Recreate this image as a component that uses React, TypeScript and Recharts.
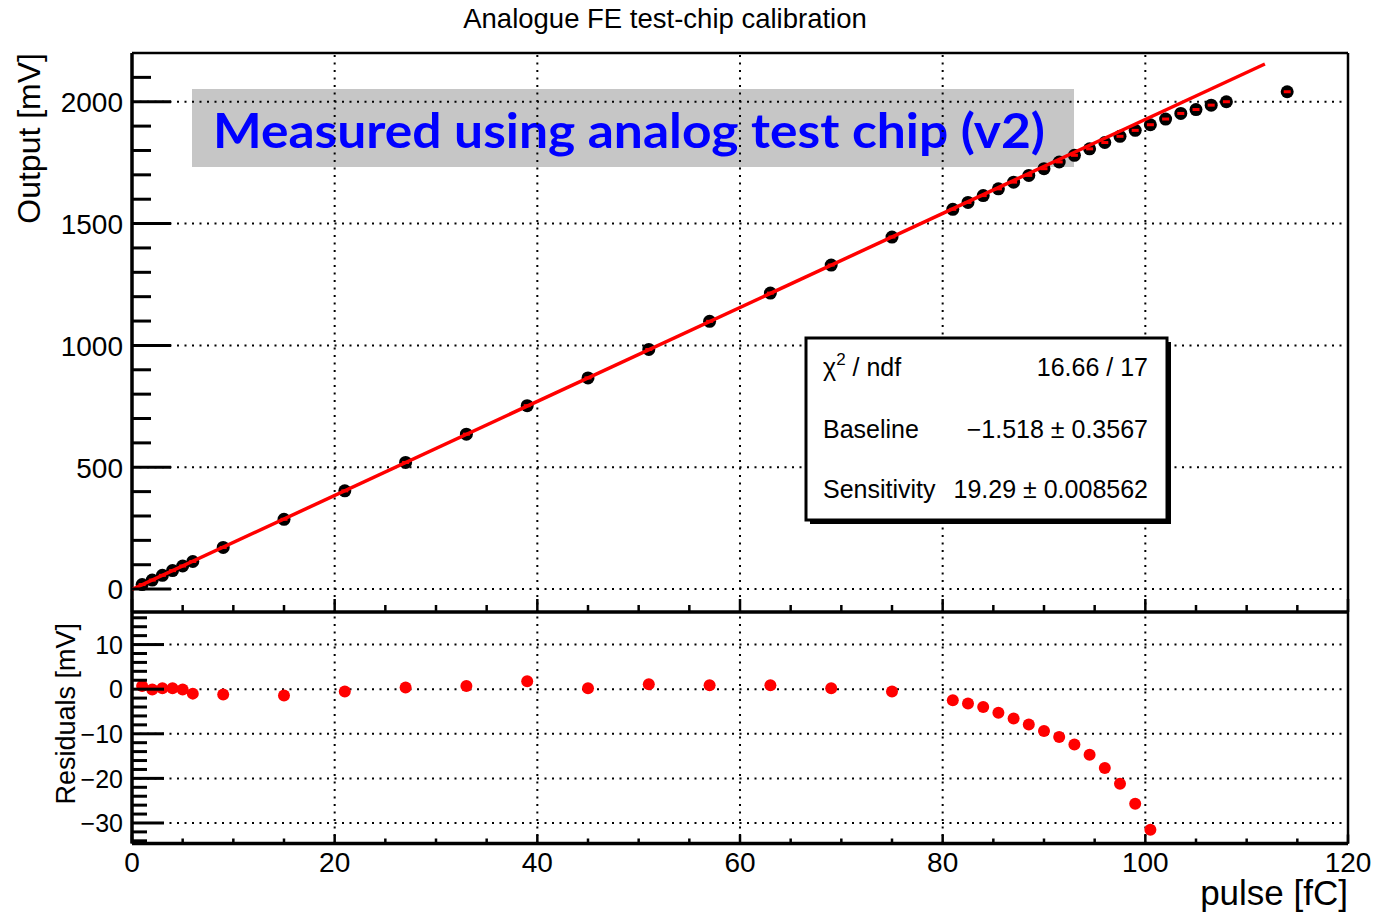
import { ScatterChart, Scatter, XAxis, YAxis, ReferenceLine } from 'recharts';

// pulse [fC] vs output [mV]
const pulse = [
  1, 2, 3, 4, 5, 6, 9, 15, 21, 27, 33, 39, 45, 51, 57, 63, 69, 75,
  81, 82.5, 84, 85.5, 87, 88.5, 90, 91.5, 93, 94.5, 96, 97.5, 99, 100.5,
  102, 103.5, 105, 106.5, 108, 114,
];
const output = [
  18.5, 37.0, 56.5, 75.8, 94.8, 113.2, 170.9, 286.4, 403.1, 519.7, 635.8, 752.6, 866.7, 983.4, 1098.9, 1214.7, 1329.7, 1444.7,
  1558.5, 1586.7, 1614.8, 1642.5, 1670.1, 1697.8, 1725.2, 1752.8, 1780.1, 1806.7, 1832.6, 1858.1, 1882.5, 1905.6,
  1929, 1952, 1968, 1986, 2000, 2041,
];
// residuals only for the fitted range (up to 100.5 fC)
const residuals = [
  0.7, -0.1, 0.2, 0.2, -0.1, -1.0, -1.2, -1.4, -0.5, 0.4, 0.7, 1.8, 0.2, 1.1, 0.9, 0.9, 0.2, -0.5,
  -2.5, -3.2, -4.0, -5.3, -6.6, -7.9, -9.4, -10.7, -12.4, -14.7, -17.7, -21.2, -25.7, -31.5,
];
// fitted line end points
const fitX = [0, 111.8];
const fitY = [-1.5, 2155];

const xGrid = [20, 40, 60, 80, 100, 120];
const topLabels = [0, 500, 1000, 1500, 2000];
const resLabels = [-30, -20, -10, 0, 10];

const xTicks = Array.from({ length: 25 }, (_, i) => i * 5);
const topTicks = Array.from({ length: 22 }, (_, i) => i * 100);
const resTicks = Array.from({ length: 26 }, (_, i) => -34 + i * 2);

const pointData = pulse.map((x, i) => ({ x, y: output[i] }));
const resData = residuals.map((y, i) => ({ x: pulse[i], y }));
const fitData = fitX.map((x, i) => ({ x, y: fitY[i] }));

const FONT = '"Liberation Sans", Arial, Helvetica, sans-serif';
const GRID = { stroke: '#000', strokeDasharray: '2 5.5', strokeWidth: 2 };

const fmt = (v: number) => (v < 0 ? '\u2212' + Math.abs(v) : String(v));

function LeftTick(props: any) {
  const { x, y, payload, major, majorLen, minorLen, fontSize, labels } = props;
  const v = payload.value;
  const isMajor = Math.abs(v % major) < 1e-6;
  return (
    <g>
      <line x1={x} x2={x + (isMajor ? majorLen : minorLen)} y1={y} y2={y} stroke="#000" strokeWidth={3} />
      {isMajor && labels.includes(v) && (
        <text x={x - 9} y={y + fontSize * 0.37} textAnchor="end" fontFamily={FONT} fontSize={fontSize} fill="#000">
          {fmt(v)}
        </text>
      )}
    </g>
  );
}

function BottomTick(props: any) {
  const { x, y, payload, majorLen, minorLen, showLabels } = props;
  const v = payload.value;
  const isMajor = v % 20 === 0;
  return (
    <g>
      <line x1={x} x2={x} y1={y} y2={y - (isMajor ? majorLen : minorLen)} stroke="#000" strokeWidth={2.5} />
      {showLabels && isMajor && (
        <text x={x} y={y + 28.5} textAnchor="middle" fontFamily={FONT} fontSize={28} fill="#000">
          {v}
        </text>
      )}
    </g>
  );
}

const MeasuredPoint = (p: any) => (
  <g>
    <circle cx={p.cx} cy={p.cy} r={6.5} fill="#000" />
    <rect x={p.cx - 3.5} y={p.cy - 1.5} width={7} height={3} fill="#ff0000" />
  </g>
);

const ResidualPoint = (p: any) => <circle cx={p.cx} cy={p.cy} r={6} fill="#ff0000" />;

export default function App() {
  return (
    <div style={{ position: 'absolute', left: 0, top: 0, width: 1375, height: 916, background: '#fff' }}>
      {/* annotation box behind the plot */}
      <svg width={1375} height={916} style={{ position: 'absolute', left: 0, top: 0 }}>
        <rect x={192} y={89} width={882} height={78} fill="#c6c6c6" />
        <text
          x={213}
          y={148}
          fontFamily="Lato, 'Open Sans', sans-serif"
          fontWeight="bold"
          fontSize={48}
          fill="#0000ff"
          textLength={832}
          lengthAdjust="spacingAndGlyphs"
        >
          Measured using analog test chip (v2)
        </text>
      </svg>

      <div style={{ position: 'absolute', left: 0, top: 0 }}>
        <ScatterChart width={1375} height={640} margin={{ top: 53, right: 27, bottom: 27, left: 131 }}>
          <XAxis
            type="number"
            dataKey="x"
            domain={[0, 120]}
            ticks={xTicks}
            interval={0}
            height={1}
            tickSize={0}
            tickMargin={0}
            tickLine={false}
            axisLine={{ stroke: '#000', strokeWidth: 3.5 }}
            tick={<BottomTick majorLen={13} minorLen={7} showLabels={false} />}
            allowDataOverflow
          />
          <YAxis
            type="number"
            dataKey="y"
            domain={[-94, 2200]}
            ticks={topTicks}
            interval={0}
            width={1}
            tickSize={0}
            tickMargin={0}
            tickLine={false}
            axisLine={{ stroke: '#000', strokeWidth: 3.5 }}
            tick={<LeftTick major={500} majorLen={39} minorLen={19} fontSize={28} labels={topLabels} />}
            allowDataOverflow
          />
          {xGrid.map((v) => (
            <ReferenceLine key={'gx' + v} x={v} {...GRID} />
          ))}
          {topLabels.map((v) => (
            <ReferenceLine key={'gy' + v} y={v} {...GRID} />
          ))}
          <ReferenceLine y={2200} stroke="#000" strokeWidth={2.5} />
          <ReferenceLine x={120} stroke="#000" strokeWidth={2.5} />
          <Scatter data={pointData} shape={MeasuredPoint} isAnimationActive={false} />
          <Scatter
            data={fitData}
            line={{ stroke: '#ff0000', strokeWidth: 3.5 }}
            shape={() => <g />}
            isAnimationActive={false}
          />
        </ScatterChart>
      </div>

      <div style={{ position: 'absolute', left: 0, top: 0 }}>
        <ScatterChart width={1375} height={916} margin={{ top: 612, right: 27, bottom: 71.5, left: 131 }}>
          <XAxis
            type="number"
            dataKey="x"
            domain={[0, 120]}
            ticks={xTicks}
            interval={0}
            height={1}
            tickSize={0}
            tickMargin={0}
            tickLine={false}
            axisLine={{ stroke: '#000', strokeWidth: 3.5 }}
            tick={<BottomTick majorLen={9} minorLen={5} showLabels />}
            allowDataOverflow
          />
          <YAxis
            type="number"
            dataKey="y"
            domain={[-34.6, 17.3]}
            ticks={resTicks}
            interval={0}
            width={1}
            tickSize={0}
            tickMargin={0}
            tickLine={false}
            axisLine={{ stroke: '#000', strokeWidth: 3.5 }}
            tick={<LeftTick major={10} majorLen={32} minorLen={15} fontSize={25} labels={resLabels} />}
            allowDataOverflow
          />
          {xGrid.map((v) => (
            <ReferenceLine key={'rx' + v} x={v} {...GRID} />
          ))}
          {resLabels.map((v) => (
            <ReferenceLine key={'ry' + v} y={v} {...GRID} />
          ))}
          <ReferenceLine x={120} stroke="#000" strokeWidth={2.5} />
          <Scatter data={resData} shape={ResidualPoint} isAnimationActive={false} />
        </ScatterChart>
      </div>

      {/* titles and fit statistics */}
      <svg width={1375} height={916} style={{ position: 'absolute', left: 0, top: 0 }} fontFamily={FONT}>
        <text x={665} y={28} textAnchor="middle" fontSize={27.5} fill="#000">
          Analogue FE test-chip calibration
        </text>
        <text transform="translate(40,53) rotate(-90)" textAnchor="end" fontSize={32} fill="#000">
          Output [mV]
        </text>
        <text transform="translate(75,623) rotate(-90)" textAnchor="end" fontSize={27} fill="#000">
          Residuals [mV]
        </text>
        <text x={1348} y={905} textAnchor="end" fontSize={35} fill="#000">
          pulse [fC]
        </text>

        <rect x={810} y={342} width={361} height={182} fill="#000" />
        <rect x={806} y={338} width={361} height={182} fill="#fff" stroke="#000" strokeWidth={3} />
        <text x={823} y={376} fontSize={25} fill="#000">
          χ<tspan fontSize={17} dy={-11}>2</tspan>
          <tspan dy={11}> / ndf</tspan>
        </text>
        <text x={1148} y={376} textAnchor="end" fontSize={25} fill="#000">
          16.66 / 17
        </text>
        <text x={823} y={438} fontSize={25} fill="#000">
          Baseline
        </text>
        <text x={1148} y={438} textAnchor="end" fontSize={25} fill="#000">
          {'\u22121.518 \u00b1 0.3567'}
        </text>
        <text x={823} y={498} fontSize={25} fill="#000">
          Sensitivity
        </text>
        <text x={1148} y={498} textAnchor="end" fontSize={25} fill="#000">
          {'19.29 \u00b1 0.008562'}
        </text>
      </svg>
    </div>
  );
}
